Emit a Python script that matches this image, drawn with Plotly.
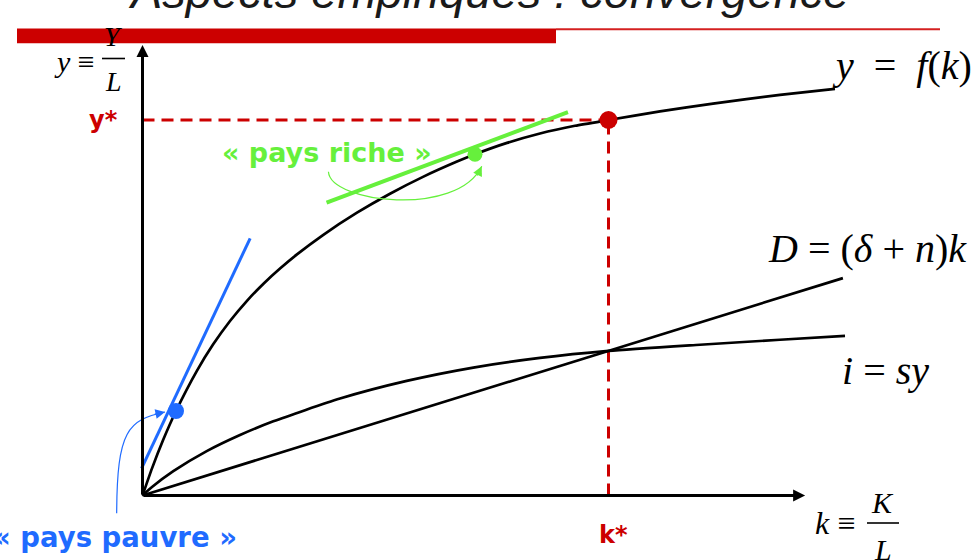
import plotly.graph_objects as go

# ---------------- data ----------------
k_star = 10.0
y_star = 10.0

# production function y = f(k)
f_k = [0, 0.204, 0.440, 0.719, 1.170, 1.513, 1.878, 2.242, 2.607, 2.951, 3.315, 3.873, 4.603,
       5.311, 6.019, 6.749, 7.135, 7.822, 8.530, 9.281, 10.0, 11.105, 12.242, 13.680, 14.860]
f_y = [0, 0.722, 1.470, 2.250, 3.326, 4.019, 4.647, 5.185, 5.654, 6.045, 6.421, 6.937, 7.531,
       8.037, 8.485, 8.892, 9.087, 9.390, 9.641, 9.846, 10.0, 10.229, 10.437, 10.668, 10.831]

# investment i = s y
i_k = [0, 0.204, 0.661, 1.378, 2.092, 2.807, 4.238, 5.670, 7.099, 8.530, 10.0, 11.963, 13.680, 15.075]
i_y = [0, 0.225, 0.646, 1.181, 1.610, 1.975, 2.582, 3.051, 3.407, 3.663, 3.850, 4.015, 4.148, 4.252]

# depreciation line D = (delta + n) k
d_k = [0, 15.03]
d_y = [0, 5.79]

# tangents
poor_tan_k = [-0.02, 2.31]
poor_tan_y = [0.72, 6.85]
rich_tan_k = [3.95, 9.13]
rich_tan_y = [7.80, 10.21]

# highlighted points
poor_pt = [0.719, 2.25]
rich_pt = [7.135, 9.087]

# axis extents
k_axis_end = 14.22
y_axis_end = 12.0

# curved arrows (start, ctrl1, ctrl2, end)
poor_arc = [(-0.554, -0.474), (-0.547, 1.744), (-0.311, 2.011), (0.483, 2.224)]
rich_arc = [(3.990, 8.624), (4.030, 7.800), (6.750, 7.400), (7.280, 8.770)]

# ---------------- figure ----------------
W, H = 975, 560
OX, OY, KPX, YPX = 142.5, 495.5, 46.6, 37.55
xr = [-OX / KPX, (W - OX) / KPX]
yr = [-(H - OY) / YPX, OY / YPX]

def P(x, y):
    return x / W, 1 - y / H

RED = "#cc0000"
GREEN = "#66f03c"
BLUE = "#1f6bff"
BLACK = "#000000"
SERIF = "Liberation Serif, DejaVu Serif, serif"
SANS = "DejaVu Sans, Verdana, sans-serif"

fig = go.Figure()

# dashed guides
fig.add_trace(go.Scatter(x=[0, k_star], y=[y_star, y_star], mode="lines",
                         line=dict(color=RED, width=3, dash="12px,7px")))
fig.add_trace(go.Scatter(x=[k_star, k_star], y=[0, y_star], mode="lines",
                         line=dict(color=RED, width=3, dash="12px,7px")))

# curves
fig.add_trace(go.Scatter(x=d_k, y=d_y, mode="lines", line=dict(color=BLACK, width=2.7)))
fig.add_trace(go.Scatter(x=i_k, y=i_y, mode="lines",
                         line=dict(color=BLACK, width=2.7, shape="spline", smoothing=0.6)))
fig.add_trace(go.Scatter(x=f_k, y=f_y, mode="lines",
                         line=dict(color=BLACK, width=2.7, shape="spline", smoothing=0.6)))

# tangents
fig.add_trace(go.Scatter(x=poor_tan_k, y=poor_tan_y, mode="lines", line=dict(color=BLUE, width=3)))
fig.add_trace(go.Scatter(x=rich_tan_k, y=rich_tan_y, mode="lines", line=dict(color=GREEN, width=4)))

# points
fig.add_trace(go.Scatter(x=[poor_pt[0]], y=[poor_pt[1]], mode="markers", marker=dict(color=BLUE, size=16)))
fig.add_trace(go.Scatter(x=[rich_pt[0]], y=[rich_pt[1]], mode="markers", marker=dict(color=GREEN, size=15)))
fig.add_trace(go.Scatter(x=[k_star], y=[y_star], mode="markers", marker=dict(color=RED, size=18)))

shapes = []
# slide header bar
x0, y0 = P(17, 43.3)
x1, y1 = P(556, 28.5)
shapes.append(dict(type="rect", xref="paper", yref="paper", x0=x0, x1=x1, y0=y0, y1=y1,
                   fillcolor=RED, line=dict(width=0), layer="below"))
lx0, ly = P(556, 29.3)
lx1, _ = P(940, 29.3)
shapes.append(dict(type="line", xref="paper", yref="paper", x0=lx0, x1=lx1, y0=ly, y1=ly,
                   line=dict(color="#d42020", width=2), layer="below"))
# fraction bars
for (a, b, yy) in [(102, 125, 58.5), (867, 899, 523)]:
    fx0, fy = P(a, yy)
    fx1, _ = P(b, yy)
    shapes.append(dict(type="line", xref="paper", yref="paper", x0=fx0, x1=fx1, y0=fy, y1=fy,
                       line=dict(color=BLACK, width=1.6)))

def arc_path(pts):
    (a, b, c, d) = pts
    return f"M {a[0]},{a[1]} C {b[0]},{b[1]} {c[0]},{c[1]} {d[0]},{d[1]}"

shapes.append(dict(type="path", xref="x", yref="y", path=arc_path(poor_arc),
                   line=dict(color=BLUE, width=1.2)))
shapes.append(dict(type="path", xref="x", yref="y", path=arc_path(rich_arc),
                   line=dict(color=GREEN, width=1.2)))

ann = []
# axes with arrowheads
ann.append(dict(x=k_axis_end, y=0, ax=0, ay=0, xref="x", yref="y", axref="x", ayref="y",
                text="", showarrow=True, arrowhead=2, arrowsize=0.8, arrowwidth=3, arrowcolor=BLACK))
ann.append(dict(x=0, y=y_axis_end, ax=0, ay=0, xref="x", yref="y", axref="x", ayref="y",
                text="", showarrow=True, arrowhead=2, arrowsize=0.8, arrowwidth=3, arrowcolor=BLACK))

# arrowheads of curved arrows
def head(pts, color, back_px=12):
    end, ctrl = pts[3], pts[2]
    dx = (end[0] - ctrl[0]) * KPX
    dy = (end[1] - ctrl[1]) * YPX
    n = (dx * dx + dy * dy) ** 0.5
    tx = end[0] - back_px * dx / n / KPX
    ty = end[1] - back_px * dy / n / YPX
    return dict(x=end[0], y=end[1], ax=tx, ay=ty, xref="x", yref="y", axref="x", ayref="y",
                text="", showarrow=True, arrowhead=2, arrowsize=1.6, arrowwidth=1.2, arrowcolor=color)

ann.append(head(poor_arc, BLUE))
ann.append(head(rich_arc, GREEN))

def txt(text, px, py, size, color=BLACK, family=SERIF, xanchor="center", yanchor="middle"):
    x, y = P(px, py)
    ann.append(dict(x=x, y=y, xref="paper", yref="paper", text=text, showarrow=False,
                    xanchor=xanchor, yanchor=yanchor,
                    font=dict(size=size, color=color, family=family)))

# slide title (cut off at top)
txt("<i>Aspects empiriques : convergence</i>", 488, -9, 47, "#1a1a1a", "Liberation Sans, Arial, sans-serif")

# math labels
txt("<i>y</i>\u2002=\u2002<i>f</i>(<i>k</i>)", 902, 65, 40)
txt("<i>D</i> = (<i>δ</i> + <i>n</i>)<i>k</i>", 867, 248, 40)
txt("<i>i</i> = <i>sy</i>", 885, 370, 40)
txt("<i>k</i> ≡", 835, 523, 32)
txt("<i>K</i>", 882, 502, 30)
txt("<i>L</i>", 883, 549, 30)
txt("<i>y</i> ≡", 74, 61, 30)
txt("<i>Y</i>", 113, 37, 28)
txt("<i>L</i>", 113, 81, 28)

# coloured labels
txt("<b>y*</b>", 103, 120, 24, RED, SANS)
txt("<b>k*</b>", 613, 535, 24, RED, SANS)
txt("<b>« pays riche »</b>", 327, 153, 27, GREEN, SANS)
txt("<b>« pays pauvre »</b>", 239, 537, 27.5, BLUE, SANS, xanchor="right")

fig.update_layout(
    width=W, height=H,
    margin=dict(l=0, r=0, t=0, b=0),
    paper_bgcolor="white", plot_bgcolor="white",
    showlegend=False,
    xaxis=dict(range=xr, visible=False, fixedrange=True),
    yaxis=dict(range=yr, visible=False, fixedrange=True),
    shapes=shapes,
    annotations=ann,
)

fig.write_html("out.html", config={"displayModeBar": False},
               post_script="document.body.style.margin='0px';document.body.style.overflow='hidden';")
